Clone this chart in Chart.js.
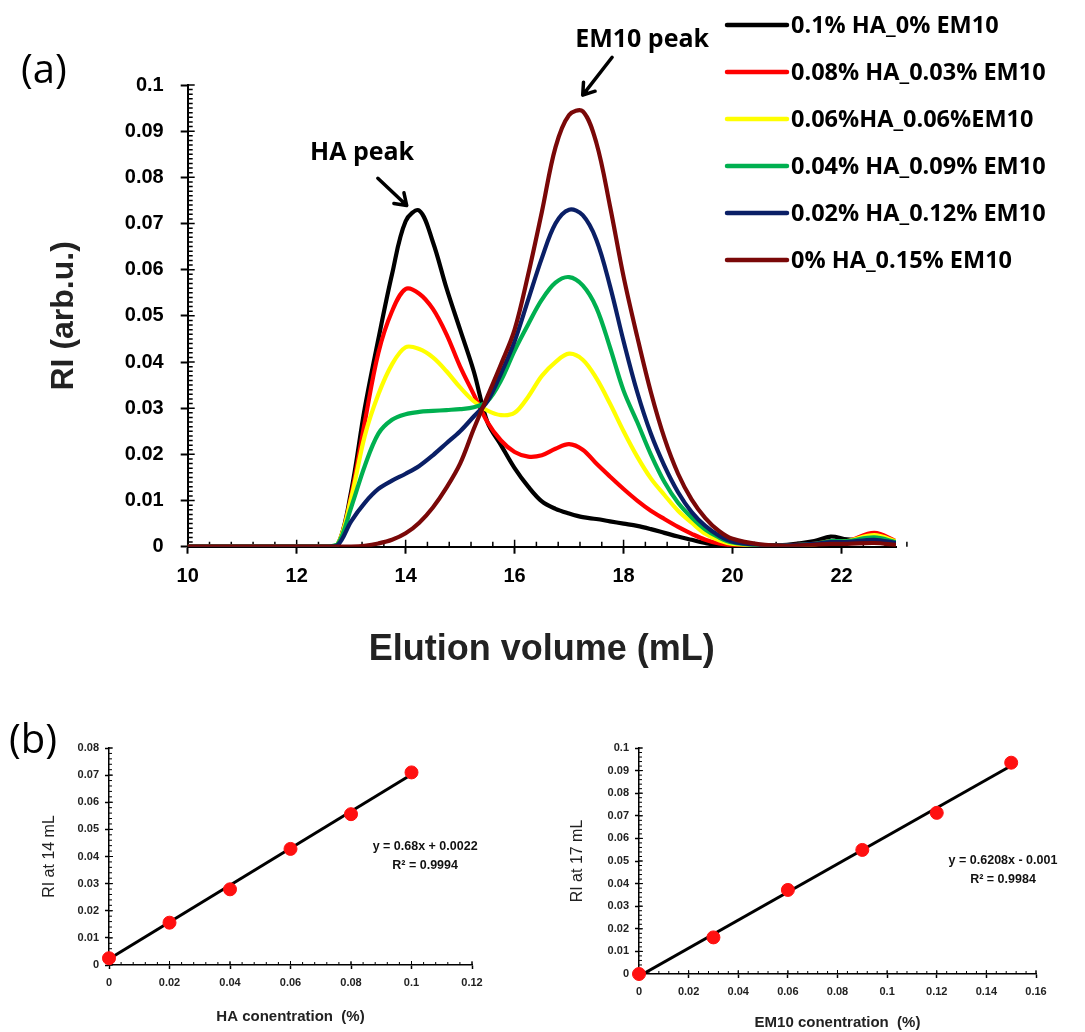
<!DOCTYPE html>
<html>
<head>
<meta charset="utf-8">
<script src="https://cdn.jsdelivr.net/npm/chart.js@4.4.0/dist/chart.umd.min.js"></script>
<style>
  html, body { margin: 0; padding: 0; background: #fff; }
  body { width: 1085px; height: 1032px; position: relative; overflow: hidden; }
  .box { position: absolute; }
  .panel { position: absolute; font-family: "Open Sans", sans-serif; font-size: 40px; line-height: 1; color: #000; }
</style>
</head>
<body>
<div class="box" style="left:0;top:0;width:1085px;height:680px"><canvas id="gpcChart"></canvas></div>
<div class="box" style="left:0;top:690px;width:540px;height:342px"><canvas id="haChart"></canvas></div>
<div class="box" style="left:545px;top:690px;width:540px;height:342px"><canvas id="em10Chart"></canvas></div>
<div class="panel" style="left:21px;top:48px">(a)</div>
<div class="panel" style="left:9px;top:718px">(b)</div>

<script>
// --- (a) GPC traces: elution volume (mL) vs RI ---
const elution = [10, 12, 12.5, 12.75, 13, 13.25, 13.5, 13.75, 14, 14.25, 14.5, 14.75, 15, 15.25, 15.5, 15.75,
  16, 16.25, 16.5, 16.75, 17, 17.25, 17.5, 17.75, 18, 18.25, 18.5, 18.75, 19, 19.25, 19.5, 19.75,
  20, 20.5, 21, 21.5, 21.8, 22.1, 22.6, 23];

const riHA010 = [0, 0, 0, 0.0003, 0.012, 0.030, 0.045, 0.059, 0.0705, 0.0728, 0.066, 0.056, 0.047, 0.038, 0.027, 0.022,
  0.017, 0.013, 0.0098, 0.0082, 0.0072, 0.0064, 0.006, 0.0055, 0.005, 0.0045, 0.0038, 0.003, 0.0022, 0.0015, 0.0008, 0.0003,
  0.0002, 0.0002, 0.0004, 0.0012, 0.0022, 0.0016, 0.0012, 0.0008];
const riHA008 = [0, 0, 0, 0.0003, 0.011, 0.027, 0.042, 0.051, 0.0558, 0.0548, 0.0515, 0.046, 0.039, 0.033, 0.027, 0.023,
  0.0205, 0.0195, 0.0198, 0.0212, 0.0222, 0.021, 0.018, 0.0152, 0.0125, 0.0100, 0.0078, 0.006, 0.0043, 0.0028, 0.0015, 0.0007,
  0.0003, 0.0002, 0.0003, 0.0006, 0.0012, 0.0012, 0.003, 0.0012];
const riHA006 = [0, 0, 0, 0.0005, 0.0105, 0.024, 0.033, 0.0395, 0.0432, 0.0428, 0.041, 0.038, 0.0345, 0.0315, 0.0295, 0.0285,
  0.029, 0.0325, 0.037, 0.040, 0.0418, 0.0405, 0.0365, 0.031, 0.025, 0.0195, 0.0148, 0.0112, 0.0078, 0.0052, 0.0028, 0.0014,
  0.0006, 0.0003, 0.0003, 0.0005, 0.001, 0.0012, 0.0025, 0.0012];
const riHA004 = [0, 0, 0, 0.0005, 0.0085, 0.0175, 0.0245, 0.0275, 0.0287, 0.0292, 0.0294, 0.0296, 0.0298, 0.0302, 0.0315, 0.036,
  0.0425, 0.0482, 0.0535, 0.0572, 0.0584, 0.0566, 0.0518, 0.0432, 0.0338, 0.027, 0.020, 0.014, 0.0095, 0.0063, 0.0037, 0.002,
  0.0009, 0.0003, 0.0003, 0.0006, 0.0012, 0.0012, 0.002, 0.001];
const riHA002 = [0, 0, 0, 0.0003, 0.0055, 0.0095, 0.0125, 0.0143, 0.0158, 0.0175, 0.0198, 0.0224, 0.025, 0.0282, 0.0315, 0.0375,
  0.0445, 0.0535, 0.0625, 0.0700, 0.0730, 0.0718, 0.0665, 0.0565, 0.0445, 0.0335, 0.0245, 0.0175, 0.0118, 0.0075, 0.0045, 0.0024,
  0.0011, 0.0004, 0.0003, 0.0006, 0.001, 0.001, 0.0015, 0.0008];
const riHA000 = [0, 0, 0, 0, 0, 0.0002, 0.0007, 0.0015, 0.0029, 0.0052, 0.0085, 0.0128, 0.018, 0.0255, 0.0325, 0.0395,
  0.047, 0.059, 0.0725, 0.0865, 0.0935, 0.0943, 0.0875, 0.0738, 0.0585, 0.0455, 0.0335, 0.0235, 0.0158, 0.0102, 0.0062, 0.0034,
  0.0017, 0.0005, 0.0002, 0.0004, 0.0006, 0.0006, 0.0008, 0.0004];

const seriesLabels = ['0.1% HA_0% EM10', '0.08% HA_0.03% EM10', '0.06%HA_0.06%EM10',
  '0.04% HA_0.09% EM10', '0.02% HA_0.12% EM10', '0% HA_0.15% EM10'];
const seriesValues = [riHA010, riHA008, riHA006, riHA004, riHA002, riHA000];
const seriesColors = ['#000000', '#ff0000', '#ffff00', '#00b050', '#0a1f66', '#7a0808'];

// --- (b) calibration data ---
const haConc = [0, 0.02, 0.04, 0.06, 0.08, 0.1];
const haRI = [0.0025, 0.0156, 0.0279, 0.0428, 0.0556, 0.071];
const haSlope = 0.68, haIntercept = 0.0022;

const em10Conc = [0, 0.03, 0.06, 0.09, 0.12, 0.15];
const em10RI = [0, 0.0162, 0.0372, 0.0549, 0.0713, 0.0935];
const em10Slope = 0.6208, em10Intercept = -0.001;

const AXIS_FONT = '"Liberation Sans", Arial, sans-serif';
const NOTE_FONT = '"Open Sans", sans-serif';

// petits traits (mineurs + moitié intérieure des majeurs)
function tickMarks(minorX, minorY, majorIn, minorIn, lw) {
    return {
        id: 'tickMarks',
        beforeDatasetsDraw(chart) {
            const { ctx, chartArea: ca, scales: { x, y } } = chart;
            ctx.save();
            ctx.strokeStyle = '#000';
            ctx.lineWidth = lw;
            ctx.beginPath();
            const nx = Math.round((x.max - x.min) / minorX);
            for (let i = 0; i <= nx; i++) {
                const px = x.getPixelForValue(x.min + i * minorX);
                ctx.moveTo(px, ca.bottom);
                ctx.lineTo(px, ca.bottom - minorIn);
            }
            const ny = Math.round((y.max - y.min) / minorY);
            for (let i = 0; i <= ny; i++) {
                const py = y.getPixelForValue(y.min + i * minorY);
                ctx.moveTo(ca.left, py);
                ctx.lineTo(ca.left + minorIn, py);
            }
            x.ticks.forEach(t => {
                const px = x.getPixelForValue(t.value);
                ctx.moveTo(px, ca.bottom);
                ctx.lineTo(px, ca.bottom - majorIn);
            });
            y.ticks.forEach(t => {
                const py = y.getPixelForValue(t.value);
                ctx.moveTo(ca.left, py);
                ctx.lineTo(ca.left + majorIn, py);
            });
            ctx.stroke();
            ctx.restore();
        }
    };
}

function drawArrow(ctx, x1, y1, x2, y2) {
    const ang = Math.atan2(y2 - y1, x2 - x1);
    const head = 13;
    ctx.beginPath();
    ctx.moveTo(x1, y1);
    ctx.lineTo(x2, y2);
    ctx.moveTo(x2 - head * Math.cos(ang - 0.6), y2 - head * Math.sin(ang - 0.6));
    ctx.lineTo(x2, y2);
    ctx.lineTo(x2 - head * Math.cos(ang + 0.6), y2 - head * Math.sin(ang + 0.6));
    ctx.stroke();
}

const gpcNotes = {
    id: 'gpcNotes',
    afterDraw(chart) {
        const { ctx, scales: { x, y } } = chart;
        ctx.save();
        ctx.fillStyle = '#000';
        ctx.strokeStyle = '#000';
        ctx.lineWidth = 3.5;
        ctx.lineCap = 'round';
        ctx.lineJoin = 'round';
        ctx.font = '700 25px ' + NOTE_FONT;
        ctx.textAlign = 'center';
        ctx.textBaseline = 'middle';
        ctx.fillText('HA peak', x.getPixelForValue(13.2), y.getPixelForValue(0.0854));
        ctx.fillText('EM10 peak', x.getPixelForValue(18.34), y.getPixelForValue(0.1097));
        drawArrow(ctx, x.getPixelForValue(13.49), y.getPixelForValue(0.0798), x.getPixelForValue(14.02), y.getPixelForValue(0.0739));
        drawArrow(ctx, x.getPixelForValue(17.79), y.getPixelForValue(0.1060), x.getPixelForValue(17.25), y.getPixelForValue(0.0978));

        // legende maison, en haut à droite
        ctx.textAlign = 'left';
        ctx.font = '700 23.5px ' + NOTE_FONT;
        ctx.lineWidth = 4.5;
        chart.data.datasets.forEach((ds, i) => {
            const ry = 25 + i * 47;
            ctx.strokeStyle = ds.borderColor;
            ctx.beginPath();
            ctx.moveTo(727, ry);
            ctx.lineTo(787, ry);
            ctx.stroke();
            ctx.fillText(ds.label, 791, ry + 1);
        });
        ctx.restore();
    }
};

function fitWidth(w) { return scale => { scale.width = w; }; }
function fitHeight(h) { return scale => { scale.height = h; }; }
const fmt = v => String(+v.toFixed(3));

document.addEventListener('DOMContentLoaded', () => {
    // 1. Graphique (a)
    new Chart(document.getElementById('gpcChart'), {
        type: 'line',
        data: {
            labels: elution,
            datasets: seriesValues.map((vals, i) => ({
                label: seriesLabels[i],
                data: vals.map((v, k) => ({ x: elution[k], y: v })),
                borderColor: seriesColors[i],
                borderWidth: 4.2,
                pointRadius: 0,
                tension: 0.35,
                order: seriesValues.length - i
            }))
        },
        options: {
            animation: false,
            responsive: true,
            maintainAspectRatio: false,
            layout: { padding: { left: 40, top: 85, right: 189, bottom: 4 } },
            plugins: { legend: { display: false }, tooltip: { enabled: false } },
            scales: {
                x: {
                    type: 'linear', min: 10, max: 23,
                    afterFit: fitHeight(129.3),
                    border: { display: true, color: '#000', width: 2 },
                    grid: { drawOnChartArea: false, drawTicks: true, tickLength: 7, tickColor: '#000', tickWidth: 2 },
                    ticks: { stepSize: 2, includeBounds: false, padding: 11, color: '#000', maxRotation: 0,
                        font: { family: AXIS_FONT, size: 20, weight: 'bold' } },
                    title: { display: true, text: 'Elution volume (mL)', color: '#222',
                        font: { family: AXIS_FONT, size: 36, weight: 'bold' }, padding: { top: 0, bottom: 4 } }
                },
                y: {
                    min: 0, max: 0.1,
                    afterFit: fitWidth(147.7),
                    border: { display: true, color: '#000', width: 2 },
                    grid: { drawOnChartArea: false, drawTicks: true, tickLength: 7, tickColor: '#000', tickWidth: 2 },
                    ticks: { stepSize: 0.01, padding: 17, color: '#000', callback: fmt,
                        font: { family: AXIS_FONT, size: 20, weight: 'bold' } },
                    title: { display: true, text: 'RI (arb.u.)', color: '#222',
                        font: { family: AXIS_FONT, size: 32, weight: 'bold' }, padding: { top: 5, bottom: 0 } }
                }
            }
        },
        plugins: [tickMarks(0.4, 0.001, 7, 5, 1.5), gpcNotes]
    });

    // 2. Graphiques (b) : calibration
    function calibChart(id, conc, ri, slope, intercept, cfg) {
        const xEnd = conc[conc.length - 1];
        const eqText = {
            id: 'eqText',
            afterDraw(chart) {
                const { ctx, scales: { x, y } } = chart;
                const px = x.getPixelForValue(cfg.eqAt[0]);
                const py = y.getPixelForValue(cfg.eqAt[1]);
                ctx.save();
                ctx.fillStyle = '#111';
                ctx.font = 'bold 12.5px ' + AXIS_FONT;
                ctx.textAlign = 'center';
                ctx.textBaseline = 'middle';
                ctx.fillText(cfg.eq, px, py);
                ctx.fillText(cfg.r2, px, py + 19);
                ctx.restore();
            }
        };
        return new Chart(document.getElementById(id), {
            type: 'scatter',
            data: {
                datasets: [{
                    type: 'line',
                    data: [{ x: 0, y: intercept }, { x: xEnd, y: slope * xEnd + intercept }],
                    borderColor: '#000',
                    borderWidth: 3,
                    pointRadius: 0,
                    order: 2
                }, {
                    data: conc.map((c, k) => ({ x: c, y: ri[k] })),
                    backgroundColor: '#ff1010',
                    borderColor: '#ff1010',
                    pointRadius: 6.5,
                    order: 1,
                    clip: false
                }]
            },
            options: {
                animation: false,
                responsive: true,
                maintainAspectRatio: false,
                layout: { padding: cfg.pad },
                plugins: { legend: { display: false }, tooltip: { enabled: false } },
                scales: {
                    x: {
                        type: 'linear', min: 0, max: cfg.xMax,
                        afterFit: fitHeight(cfg.xH),
                        border: { display: true, color: '#000', width: 1.5 },
                        grid: { drawOnChartArea: false, tickLength: 4, tickColor: '#000', tickWidth: 1.5 },
                        ticks: { stepSize: 0.02, padding: 7, color: '#222', callback: fmt, maxRotation: 0,
                            font: { family: AXIS_FONT, size: 11, weight: 'bold' } },
                        title: { display: true, text: cfg.xTitle, color: '#222',
                            font: { family: AXIS_FONT, size: 15, weight: 'bold' }, padding: { top: 0, bottom: cfg.xTitlePad } }
                    },
                    y: {
                        min: 0, max: cfg.yMax,
                        afterFit: fitWidth(cfg.yW),
                        border: { display: true, color: '#000', width: 1.5 },
                        grid: { drawOnChartArea: false, tickLength: 4, tickColor: '#000', tickWidth: 1.5 },
                        ticks: { stepSize: 0.01, padding: 6, color: '#222', callback: fmt,
                            font: { family: AXIS_FONT, size: 11, weight: 'bold' } },
                        title: { display: true, text: cfg.yTitle, color: '#222',
                            font: { family: AXIS_FONT, size: 16, weight: 'normal' }, padding: { top: cfg.yTitlePad, bottom: 0 } }
                    }
                }
            },
            plugins: [tickMarks(0.004, 0.002, 4, 3, 1), eqText]
        });
    }

    calibChart('haChart', haConc, haRI, haSlope, haIntercept, {
        xMax: 0.12, yMax: 0.08, xH: 64, yW: 73, xTitlePad: 3, yTitlePad: 4.4,
        pad: { left: 36, top: 58, right: 68, bottom: 3 },
        xTitle: 'HA conentration  (%)', yTitle: 'RI at 14 mL',
        eq: 'y = 0.68x + 0.0022', r2: 'R² = 0.9994', eqAt: [0.1045, 0.0435]
    });
    calibChart('em10Chart', em10Conc, em10RI, em10Slope, em10Intercept, {
        xMax: 0.16, yMax: 0.1, xH: 58, yW: 74, xTitlePad: 0, yTitlePad: 3.4,
        pad: { left: 20, top: 58, right: 49, bottom: 0 },
        xTitle: 'EM10 conentration  (%)', yTitle: 'RI at 17 mL',
        eq: 'y = 0.6208x - 0.001', r2: 'R² = 0.9984', eqAt: [0.1467, 0.0504]
    });
});
</script>
</body>
</html>
